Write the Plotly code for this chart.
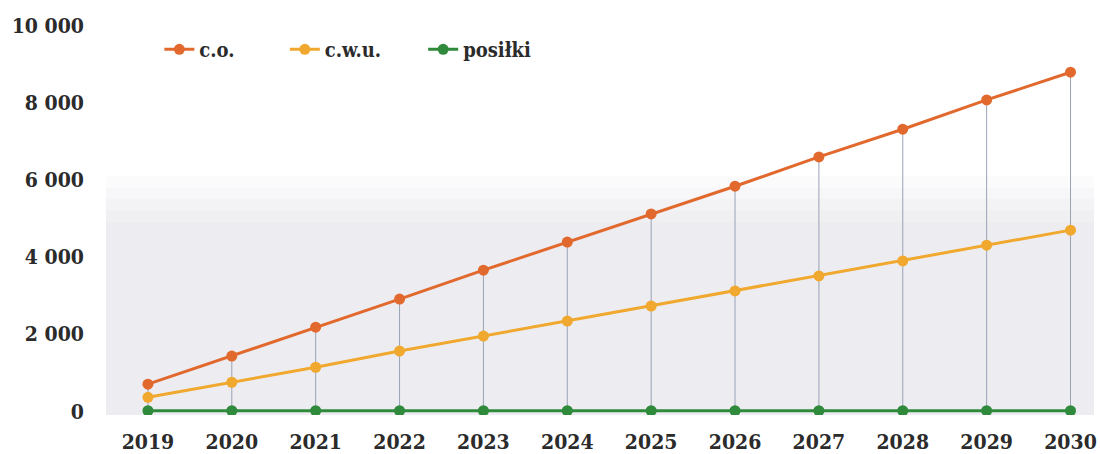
import plotly.graph_objects as go

years = ["2019", "2020", "2021", "2022", "2023", "2024",
         "2025", "2026", "2027", "2028", "2029", "2030"]
co = [700, 1430, 2180, 2910, 3660, 4390, 5120, 5840, 6600, 7320, 8080, 8800]
cwu = [360, 750, 1140, 1560, 1950, 2340, 2730, 3120, 3510, 3900, 4310, 4700]
posilki = [10, 10, 10, 10, 10, 10, 10, 10, 10, 10, 10, 10]

y_ticks = [0, 2000, 4000, 6000, 8000, 10000]
y_tick_text = ["0", "2 000", "4 000", "6 000", "8 000", "10 000"]

FONT = "DejaVu Serif Condensed"
TEXT = "#2b2b2b"

fig = go.Figure()

# vertical drop lines from each c.o. point down to the axis
drop_x, drop_y = [], []
for yr, v in zip(years, co):
    drop_x += [yr, yr, None]
    drop_y += [0, v, None]
fig.add_trace(go.Scatter(
    x=drop_x, y=drop_y, mode="lines", showlegend=False, hoverinfo="skip",
    line=dict(color="#9aa2b6", width=1),
))

series = [
    ("c.o.", co, "#e2692e", "legend", 0.054),
    ("c.w.u.", cwu, "#f0a82e", "legend2", 0.181),
    ("posiłki", posilki, "#2f8a3c", "legend3", 0.321),
]
legend_cfg = {}
for name, vals, color, lg, lx in series:
    fig.add_trace(go.Scatter(
        x=years, y=vals, name=name, mode="lines+markers", legend=lg,
        line=dict(color=color, width=3),
        marker=dict(color=color, size=11),
    ))
    legend_cfg[lg] = dict(
        orientation="h", x=lx, y=0.94, xanchor="left", yanchor="middle",
        bgcolor="rgba(0,0,0,0)",
        font=dict(family=FONT, size=20, color=TEXT, weight="bold"),
    )

# soft grey shading behind the lower part of the plot, fuzzy at its top edge
shade_tops = [4900, 5200, 5500, 5800, 6100]
for top in shade_tops:
    fig.add_shape(type="rect", xref="paper", yref="y", x0=0, x1=1, y0=-100, y1=top,
                  fillcolor="#c9cfda", opacity=0.08, line=dict(width=0), layer="below")

fig.update_layout(
    width=1100, height=454,
    margin=dict(l=106, r=6, t=26, b=39, autoexpand=False),
    paper_bgcolor="white", plot_bgcolor="white",
    font=dict(family=FONT, color=TEXT, size=21),
    xaxis=dict(
        type="category", range=[-0.5, 11.28], showgrid=False, zeroline=False,
        showline=False, ticks="", ticklabelstandoff=12, automargin=False,
        tickfont=dict(family=FONT, size=21, color=TEXT, weight="bold"),
    ),
    yaxis=dict(
        range=[-100, 10000], tickvals=y_ticks, ticktext=y_tick_text,
        showgrid=False, zeroline=False, showline=False, ticks="",
        ticklabelstandoff=21, automargin=False,
        tickfont=dict(family=FONT, size=21, color=TEXT, weight="bold"),
    ),
    **legend_cfg,
)

fig.write_html("out.html")
